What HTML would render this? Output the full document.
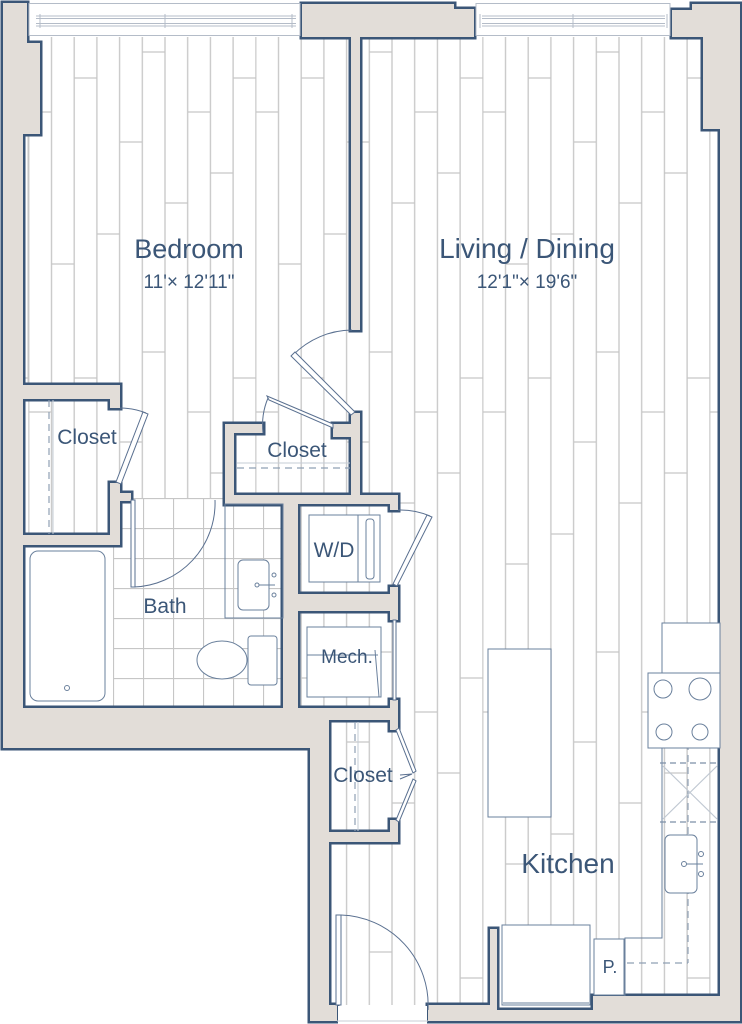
<!DOCTYPE html>
<html><head><meta charset="utf-8"><style>
html,body{margin:0;padding:0;background:#fff;}
svg{display:block;}
text{font-family:"Liberation Sans",sans-serif;fill:#3b5677;}
</style></head><body>
<svg width="742" height="1024" viewBox="0 0 742 1024" xmlns="http://www.w3.org/2000/svg">
<defs>
<pattern id="pl" patternUnits="userSpaceOnUse" x="28.3" y="0" width="227" height="600">
<g stroke="#c6c6c6" stroke-width="1.3" fill="none">
<line x1="0.5" y1="0" x2="0.5" y2="600"/><line x1="23.2" y1="0" x2="23.2" y2="600"/><line x1="45.9" y1="0" x2="45.9" y2="600"/><line x1="68.6" y1="0" x2="68.6" y2="600"/><line x1="91.3" y1="0" x2="91.3" y2="600"/><line x1="114" y1="0" x2="114" y2="600"/><line x1="136.7" y1="0" x2="136.7" y2="600"/><line x1="159.4" y1="0" x2="159.4" y2="600"/><line x1="182.1" y1="0" x2="182.1" y2="600"/><line x1="204.8" y1="0" x2="204.8" y2="600"/>
<line x1="0" y1="112" x2="23" y2="112"/><line x1="0" y1="412" x2="23" y2="412"/>
<line x1="23" y1="264" x2="46" y2="264"/><line x1="23" y1="564" x2="46" y2="564"/>
<line x1="46" y1="78" x2="69" y2="78"/><line x1="46" y1="378" x2="69" y2="378"/>
<line x1="69" y1="234" x2="91" y2="234"/><line x1="69" y1="534" x2="91" y2="534"/>
<line x1="91" y1="142" x2="114" y2="142"/><line x1="91" y1="442" x2="114" y2="442"/>
<line x1="114" y1="52" x2="137" y2="52"/><line x1="114" y1="352" x2="137" y2="352"/>
<line x1="137" y1="203" x2="159" y2="203"/><line x1="137" y1="503" x2="159" y2="503"/>
<line x1="159" y1="112" x2="182" y2="112"/><line x1="159" y1="412" x2="182" y2="412"/>
<line x1="182" y1="173" x2="205" y2="173"/><line x1="182" y1="473" x2="205" y2="473"/>
<line x1="205" y1="78" x2="227" y2="78"/><line x1="205" y1="378" x2="227" y2="378"/>
</g></pattern>
<pattern id="tl" patternUnits="userSpaceOnUse" x="113" y="498" width="30" height="30">
<rect width="30" height="30" fill="#fff"/>
<path d="M0.5 0V30M0 0.5H30" stroke="#c6c6c6" stroke-width="1.2"/>
</pattern>
</defs>

<polygon points="23,37 720,37 720,1005 329,1005 329,748 23,748" fill="#fff"/>
<polygon points="23,37 720,37 720,1005 329,1005 329,748 23,748" fill="url(#pl)"/>
<rect x="113" y="498" width="170" height="210" fill="url(#tl)"/>
<rect x="23" y="545" width="90" height="163" fill="#fff"/>
<line x1="28" y1="134" x2="28" y2="385" stroke="#c6c6c6"/>

<g id="walls" stroke="#3b5677" stroke-width="5" stroke-linejoin="miter">
<rect x="3" y="3" width="20" height="745"/>
<rect x="3" y="3" width="24" height="40"/>
<rect x="3" y="43" width="37" height="91"/>
<rect x="3" y="708" width="307" height="40"/>
<rect x="283" y="708" width="46" height="40"/>
<rect x="310" y="708" width="19" height="313"/>
<rect x="310" y="1005" width="27" height="16"/>
<rect x="428" y="1005" width="69" height="16"/>
<rect x="490" y="929" width="7" height="92"/>
<rect x="497" y="1010" width="96" height="11"/>
<rect x="593" y="996" width="147" height="25"/>
<rect x="720" y="129" width="20" height="892"/>
<rect x="703" y="10" width="37" height="119"/>
<rect x="672" y="10" width="31" height="27"/>
<rect x="692" y="4" width="48" height="10"/>
<rect x="302" y="4" width="152" height="33"/>
<rect x="454" y="9" width="20" height="28"/>
<rect x="351" y="37" width="9" height="293"/>
<rect x="23" y="385" width="97" height="14"/>
<rect x="110" y="399" width="10" height="9"/>
<rect x="110" y="483" width="10" height="62"/>
<rect x="110" y="493" width="21" height="8"/>
<rect x="23" y="535" width="97" height="10"/>
<rect x="225" y="424" width="9" height="80"/>
<rect x="225" y="424" width="38" height="9"/>
<rect x="333" y="424" width="27" height="13"/>
<rect x="351" y="413" width="9" height="91"/>
<rect x="225" y="495" width="173" height="9"/>
<rect x="390" y="495" width="8" height="15"/>
<rect x="283" y="502" width="15" height="206"/>
<rect x="298" y="594" width="92" height="17"/>
<rect x="390" y="587" width="8" height="33"/>
<rect x="390" y="700" width="8" height="20"/>
<rect x="298" y="708" width="100" height="12"/>
<rect x="390" y="720" width="8" height="10"/>
<rect x="390" y="820" width="8" height="22"/>
<rect x="310" y="832" width="88" height="10"/>
</g>
<g fill="#e2ddd8" stroke="none">
<rect x="3" y="3" width="20" height="745"/><rect x="3" y="3" width="24" height="40"/><rect x="3" y="43" width="37" height="91"/><rect x="3" y="708" width="307" height="40"/><rect x="283" y="708" width="46" height="40"/><rect x="310" y="708" width="19" height="313"/><rect x="310" y="1005" width="27" height="16"/><rect x="428" y="1005" width="69" height="16"/><rect x="490" y="929" width="7" height="92"/><rect x="497" y="1010" width="96" height="11"/><rect x="593" y="996" width="147" height="25"/><rect x="720" y="129" width="20" height="892"/><rect x="703" y="10" width="37" height="119"/><rect x="672" y="10" width="31" height="27"/><rect x="692" y="4" width="48" height="10"/><rect x="302" y="4" width="152" height="33"/><rect x="454" y="9" width="20" height="28"/><rect x="351" y="37" width="9" height="293"/><rect x="23" y="385" width="97" height="14"/><rect x="110" y="399" width="10" height="9"/><rect x="110" y="483" width="10" height="62"/><rect x="110" y="493" width="21" height="8"/><rect x="23" y="535" width="97" height="10"/><rect x="225" y="424" width="9" height="80"/><rect x="225" y="424" width="38" height="9"/><rect x="333" y="424" width="27" height="13"/><rect x="351" y="413" width="9" height="91"/><rect x="225" y="495" width="173" height="9"/><rect x="390" y="495" width="8" height="15"/><rect x="283" y="502" width="15" height="206"/><rect x="298" y="594" width="92" height="17"/><rect x="390" y="587" width="8" height="33"/><rect x="390" y="700" width="8" height="20"/><rect x="298" y="708" width="100" height="12"/><rect x="390" y="720" width="8" height="10"/><rect x="390" y="820" width="8" height="22"/><rect x="310" y="832" width="88" height="10"/>
</g>

<g stroke="#b4bcc8" stroke-width="1" fill="#fff">
<rect x="29" y="3.5" width="271" height="32"/>
<rect x="476" y="3.5" width="194" height="32"/>
<path d="M36 16H296M36 18.5H296M36 23.5H296M36 26H296M165 14V28M40 14V28M292 14V28" fill="none"/>
<path d="M482 16H665M482 18.5H665M482 23.5H665M482 26H665M573 14V28M480 14V28M667 14V28" fill="none"/>
</g>
<rect x="338" y="1006" width="89" height="18" fill="#fff"/>
<line x1="337" y1="1021" x2="428" y2="1021" stroke="#c9ced6"/>

<g stroke="#5a7090" stroke-width="1" fill="#fff">
<path d="M352 330 A84 84 0 0 0 293 355" fill="none"/>
<polygon points="291,356 295,352 355,412 351,415"/>
<path d="M263 433 A70 70 0 0 1 268 398" fill="none"/>
<polygon points="267,396 269,400 333,428 333,424"/>
<path d="M120 408 A75 75 0 0 1 146 413" fill="none"/>
<polygon points="143,412 148,414 121,484 116,482"/>
<path d="M134 587 A84 84 0 0 0 215 500" fill="none"/>
<rect x="131" y="500" width="4" height="87"/>
<path d="M398 510 A75 75 0 0 1 430 516" fill="none"/>
<polygon points="427,515 432,517 397,586 393,584"/>
<rect x="393" y="620" width="3" height="80"/>
<polygon points="396,730 399,728 416,771 413,773"/>
<polygon points="413,779 416,781 399,822 396,820"/>
<path d="M400 775 L412 774 L400 779" fill="none"/>
<path d="M341 915 A90 90 0 0 1 428 1010" fill="none"/>
<rect x="336" y="915" width="5" height="90"/>
</g>

<g stroke="#8fa0b4" stroke-width="1.2" fill="none" stroke-dasharray="7,5">
<line x1="49" y1="400" x2="49" y2="534"/>
<line x1="237" y1="468" x2="350" y2="468"/>
<line x1="355" y1="722" x2="355" y2="831"/>
<line x1="688" y1="623" x2="688" y2="963"/>
<line x1="627" y1="963" x2="688" y2="963"/>
</g>
<g stroke="#c5ccd6" stroke-width="1"><line x1="53" y1="400" x2="53" y2="534"/><line x1="237" y1="463" x2="350" y2="463"/><line x1="358" y1="722" x2="358" y2="831"/></g>

<g stroke="#6a809c" stroke-width="1" fill="#fff">
<rect x="30" y="551" width="75" height="150" rx="8"/>
<circle cx="67" cy="688" r="2.5"/>
<rect x="225" y="504" width="58" height="114" fill="none"/>
<rect x="238" y="560" width="31" height="50" rx="5"/>
<circle cx="274" cy="575" r="2"/><circle cx="274" cy="595" r="2"/><circle cx="257" cy="585" r="2"/>
<line x1="259" y1="585" x2="275" y2="585"/>
<rect x="248" y="636" width="29" height="49" rx="3"/>
<ellipse cx="222" cy="660" rx="25" ry="19"/>
<rect x="309" y="515" width="71" height="67"/>
<line x1="358" y1="515" x2="358" y2="582"/>
<rect x="366" y="519" width="8" height="60" rx="3"/>
<rect x="307" y="627" width="74" height="70"/>
<line x1="307" y1="655" x2="378" y2="655"/>
<line x1="375" y1="650" x2="379" y2="697"/>
<rect x="488" y="649" width="63" height="168"/>
<rect x="662" y="623" width="58" height="50"/>
<rect x="648" y="673" width="72" height="75"/>
<circle cx="663" cy="689" r="9"/><circle cx="700" cy="689" r="11"/><circle cx="664" cy="732" r="8"/><circle cx="700" cy="732" r="8"/>
<path d="M662 748V938H625V996" fill="none"/>
<rect x="665" y="835" width="32" height="58" rx="5"/>
<circle cx="701" cy="854" r="2.5"/><circle cx="701" cy="874" r="2.5"/><circle cx="684" cy="864" r="2.5"/>
<line x1="686" y1="864" x2="703" y2="864"/>
<rect x="594" y="939" width="30" height="56"/>
<rect x="502" y="925" width="88" height="80"/>
<line x1="503" y1="1003" x2="589" y2="1003"/>
</g>
<g stroke="#7c8fa8" stroke-width="1.2" fill="none">
<path d="M660 763H720M660 822H720" stroke-dasharray="6,4"/>
<path d="M663 766L717 819M717 766L663 819" stroke="#c0c8d2"/>
</g>

<text x="189" y="258" font-size="27" text-anchor="middle">Bedroom</text>
<text x="189" y="288" font-size="19" text-anchor="middle">11'× 12'11"</text>
<text x="527" y="258" font-size="28" text-anchor="middle">Living / Dining</text>
<text x="527" y="288" font-size="19" text-anchor="middle">12'1"× 19'6"</text>
<text x="87" y="444" font-size="21" text-anchor="middle">Closet</text>
<text x="297" y="457" font-size="21" text-anchor="middle">Closet</text>
<text x="334" y="557" font-size="21" text-anchor="middle">W/D</text>
<text x="165" y="613" font-size="21" text-anchor="middle">Bath</text>
<text x="347" y="663" font-size="19" text-anchor="middle">Mech.</text>
<text x="363" y="782" font-size="21" text-anchor="middle">Closet</text>
<text x="568" y="873" font-size="28" text-anchor="middle">Kitchen</text>
<text x="610" y="973" font-size="18" text-anchor="middle">P.</text>
</svg>
</body></html>
